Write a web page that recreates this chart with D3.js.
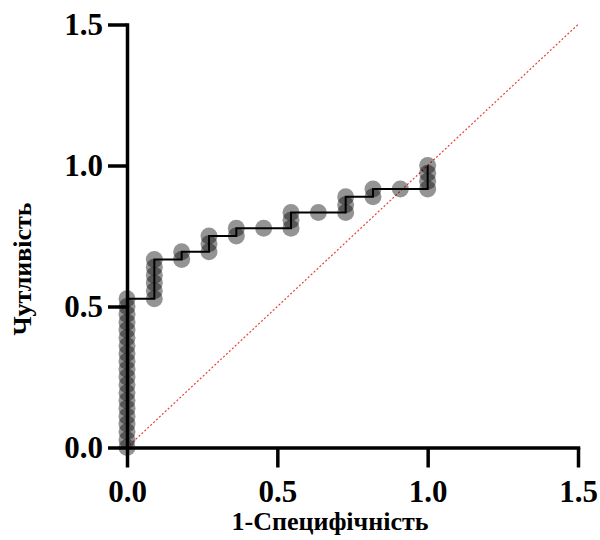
<!DOCTYPE html>
<html>
<head>
<meta charset="utf-8">
<script src="https://cdn.jsdelivr.net/npm/d3@7"></script>
<style>
  html, body { margin: 0; padding: 0; background: #fff; }
  svg { display: block; }
</style>
</head>
<body>
<div id="chart"></div>
<script>
// ROC points: 1-specificity (x) and sensitivity (y)
const fpr = [
  0,0,0,0,0,0,0,0,0,0,0,0,0,0,0,0,0,0,0,0,
  0.0909,0.0909,0.0909,0.0909,0.0909,0.0909,
  0.1818,0.1818,
  0.2727,0.2727,0.2727,
  0.3636,0.3636,
  0.4545,
  0.5455,0.5455,0.5455,
  0.6364,
  0.7273,0.7273,0.7273,
  0.8182,0.8182,
  0.9091,
  1,1,1,1
];
const tpr = [
  0,0.0278,0.0556,0.0833,0.1111,0.1389,0.1667,0.1944,0.2222,0.25,
  0.2778,0.3056,0.3333,0.3611,0.3889,0.4167,0.4444,0.4722,0.5,0.5278,
  0.5278,0.5556,0.5833,0.6111,0.6389,0.6667,
  0.6667,0.6944,
  0.6944,0.7222,0.75,
  0.75,0.7778,
  0.7778,
  0.7778,0.8056,0.8333,
  0.8333,
  0.8333,0.8611,0.8889,
  0.8889,0.9167,
  0.9167,
  0.9167,0.9444,0.9722,1
];
const tickValues = [0, 0.5, 1.0, 1.5];
const tickLabels = ["0.0", "0.5", "1.0", "1.5"];
const refLine = [0, 1.5];
const xTitle = "1-Специфічність";
const yTitle = "Чутливість";

const W = 600, H = 540;
const svg = d3.select("#chart").append("svg").attr("width", W).attr("height", H);

const x = d3.scaleLinear().domain([0, 1.5]).range([127, 578]);
const y = d3.scaleLinear().domain([0, 1.5]).range([447.5, 24.5]);

const font = "'Liberation Serif', 'Times New Roman', serif";

// reference diagonal
svg.append("line")
  .attr("x1", x(refLine[0])).attr("y1", y(refLine[0]))
  .attr("x2", x(refLine[1])).attr("y2", y(refLine[1]))
  .attr("stroke", "#e8403a").attr("stroke-width", 1.2)
  .attr("stroke-dasharray", "2,2");

const pts = fpr.map((v, i) => ({x: v, y: tpr[i]}));

// points
svg.append("g").selectAll("circle").data(pts).join("circle")
  .attr("cx", d => x(d.x)).attr("cy", d => y(d.y)).attr("r", 8.5)
  .attr("fill", "#000").attr("fill-opacity", 0.42);

// step line
svg.append("path").datum(pts)
  .attr("d", d3.line().x(d => x(d.x)).y(d => y(d.y)))
  .attr("fill", "none").attr("stroke", "#000").attr("stroke-width", 2);

// axes
const fmt = (d) => tickLabels[tickValues.indexOf(d)];
const xAxis = svg.append("g").attr("transform", `translate(0,${y(0)})`)
  .call(d3.axisBottom(x).tickValues(tickValues).tickFormat(fmt).tickSize(20).tickSizeOuter(0).tickPadding(12));
const yAxis = svg.append("g").attr("transform", `translate(${x(0)},0)`)
  .call(d3.axisLeft(y).tickValues(tickValues).tickFormat(fmt).tickSize(19).tickSizeOuter(0).tickPadding(5));

[xAxis, yAxis].forEach(g => {
  g.select(".domain").attr("stroke", "#000").attr("stroke-width", 3.5).attr("stroke-linecap", "square");
  g.selectAll(".tick line").attr("stroke", "#000").attr("stroke-width", 3.5);
  g.selectAll(".tick text").attr("fill", "#000")
    .style("font-family", font).style("font-size", "31px").style("font-weight", "bold");
});

// titles
svg.append("text").attr("x", 330).attr("y", 530)
  .attr("text-anchor", "middle")
  .style("font-family", font).style("font-size", "26px").style("font-weight", "bold")
  .text(xTitle);
svg.append("text").attr("transform", "translate(31,269) rotate(-90)")
  .attr("text-anchor", "middle")
  .style("font-family", font).style("font-size", "26px").style("font-weight", "bold")
  .text(yTitle);
</script>
</body>
</html>
